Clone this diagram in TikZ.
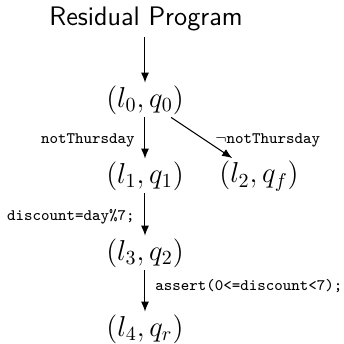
\documentclass[tikz,border=0pt]{standalone}
\usetikzlibrary{arrows.meta}
\begin{document}
\begin{tikzpicture}[x=0.5pt,y=-0.5pt,
  state/.style={inner sep=0pt, outer sep=1.5pt, font=\Large},
  title/.style={inner sep=1pt, outer sep=2pt, font=\sffamily\fontsize{13.4}{16}\selectfont},
  lbl/.style={inner sep=0pt, font=\ttfamily\footnotesize},
  edge/.style={-{Latex[length=5pt,width=4pt]}, line width=0.5pt}]
\useasboundingbox (0,0) rectangle (344,344);
\node[title] (t) at (146,19) {Residual Program};
\node[state] (n0) at (145,100) {$(l_0,q_0)$};
\node[state] (n1) at (145,176) {$(l_1,q_1)$};
\node[state] (n2) at (259,176) {$(l_2,q_f)$};
\node[state] (n3) at (145,253) {$(l_3,q_2)$};
\node[state] (n4) at (145,329) {$(l_4,q_r)$};
\draw[edge] (t.south -| n0) -- (n0);
\draw[edge] (n0) -- (n1);
\draw[edge] (n0) -- (n2);
\draw[edge] (n1) -- (n3);
\draw[edge] (n3) -- (n4);
\node[lbl, anchor=east] (a) at (135,140) {notThursday};
\node[lbl, anchor=west] (b) at (215,140) {$\neg$notThursday};
\node[lbl, anchor=east] (c) at (135,217) {discount=day\%7;};
\node[lbl, anchor=west] (d) at (155,286) {assert(0<=discount<7);};
\end{tikzpicture}
\end{document}
